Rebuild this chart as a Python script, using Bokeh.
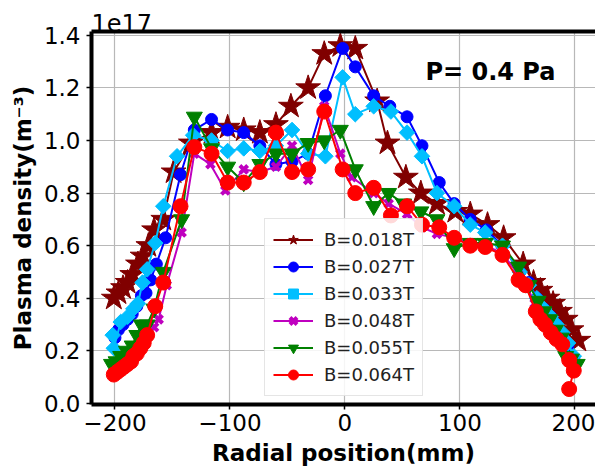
import numpy as np
from bokeh.plotting import figure
from bokeh.models import (Range1d, LinearAxis, FixedTicker, PrintfTickFormatter,
                          CustomJSTickFormatter, Label, Legend)
from bokeh.embed import file_html
from bokeh.resources import INLINE

# ---- data (density in units of 1e17 m^-3) ----
x_018 = [-201, -197, -193, -189, -185, -180, -176, -171, -166, -158, -149, -134, -116, -102, -88, -74, -60, -47, -32, -18, -4, 9, 28, 37, 53, 66, 80, 96, 109, 124, 138, 155, 164, 170, 176, 181, 187, 192, 197, 203]
y_018 = [0.40, 0.42, 0.44, 0.46, 0.49, 0.53, 0.56, 0.60, 0.66, 0.70, 0.88, 0.99, 1.03, 1.05, 1.04, 1.03, 1.06, 1.13, 1.20, 1.33, 1.36, 1.35, 1.15, 0.99, 0.86, 0.80, 0.76, 0.73, 0.72, 0.68, 0.63, 0.53, 0.46, 0.43, 0.40, 0.38, 0.35, 0.32, 0.28, 0.24]

x_027 = [-200, -197, -193, -189, -185, -181, -177, -173, -169, -164, -156, -143, -131, -116, -102, -88, -74, -60, -46, -32, -17, -2, 9, 25, 39, 54, 67, 82, 95, 109, 123, 137, 152, 160, 167, 173, 179, 184, 189, 194, 199]
y_027 = [0.25, 0.28, 0.30, 0.32, 0.34, 0.37, 0.41, 0.42, 0.47, 0.53, 0.63, 0.87, 1.04, 1.08, 1.04, 1.03, 0.98, 0.91, 0.92, 0.95, 1.17, 1.35, 1.28, 1.17, 1.13, 1.09, 0.98, 0.84, 0.76, 0.70, 0.66, 0.60, 0.50, 0.46, 0.40, 0.36, 0.33, 0.30, 0.26, 0.22, 0.17]

x_033 = [-202, -201, -195, -189, -184, -180, -176, -172, -165, -158, -146, -132, -116, -102, -88, -74, -60, -46, -32, -17, -2, 9, 25, 40, 54, 67, 80, 95, 109, 122, 137, 152, 160, 167, 173, 179, 184, 189, 194, 199]
y_033 = [0.26, 0.21, 0.31, 0.33, 0.36, 0.38, 0.46, 0.51, 0.61, 0.75, 0.94, 1.02, 1.00, 0.96, 0.97, 0.96, 0.98, 1.04, 0.95, 0.94, 1.24, 1.10, 1.13, 1.11, 1.03, 0.94, 0.80, 0.75, 0.68, 0.65, 0.60, 0.50, 0.45, 0.40, 0.36, 0.33, 0.30, 0.27, 0.23, 0.18]

x_048 = [-201, -196, -191, -186, -181, -176, -171, -166, -162, -155, -142, -131, -117, -104, -88, -74, -60, -46, -32, -18, -4, 6, 25, 38, 54, 67, 80, 95, 109, 123, 137, 151, 158, 165, 170, 175, 180, 185, 190, 195, 200]
y_048 = [0.12, 0.13, 0.15, 0.17, 0.20, 0.23, 0.26, 0.29, 0.32, 0.45, 0.65, 0.95, 0.91, 0.81, 0.89, 0.88, 0.90, 0.98, 0.85, 1.13, 0.95, 0.86, 0.80, 0.76, 0.72, 0.67, 0.645, 0.63, 0.61, 0.60, 0.57, 0.49, 0.45, 0.38, 0.34, 0.31, 0.28, 0.25, 0.22, 0.17, 0.14]

x_055 = [-203, -199, -195, -190, -185, -181, -177, -172, -166, -158, -142, -131, -116, -102, -88, -74, -60, -46, -32, -18, -4, 9, 25, 38, 51, 66, 80, 95, 109, 122, 137, 151, 160, 168, 173, 178, 183, 188, 192, 197, 202]
y_055 = [0.15, 0.16, 0.18, 0.20, 0.22, 0.26, 0.30, 0.30, 0.36, 0.50, 0.70, 1.09, 0.97, 0.90, 0.84, 0.91, 0.95, 0.95, 0.99, 1.00, 1.04, 0.89, 0.75, 0.80, 0.76, 0.73, 0.70, 0.59, 0.61, 0.61, 0.60, 0.52, 0.45, 0.39, 0.35, 0.32, 0.28, 0.25, 0.18, 0.17, 0.15]

x_064 = [-201, -198, -195, -192, -189, -186, -184, -181, -178, -175, -172, -165, -158, -143, -131, -116, -102, -88, -74, -60, -46, -32, -18, -2, 9, 25, 40, 54, 67, 82, 95, 109, 122, 137, 151, 157, 166, 170, 174, 179, 184, 189, 195, 199, 195]
y_064 = [0.11, 0.12, 0.13, 0.14, 0.15, 0.16, 0.18, 0.19, 0.21, 0.23, 0.26, 0.37, 0.46, 0.75, 0.975, 0.95, 0.84, 0.84, 0.88, 1.03, 0.88, 0.89, 1.11, 0.89, 0.80, 0.82, 0.715, 0.75, 0.68, 0.67, 0.63, 0.60, 0.595, 0.565, 0.47, 0.45, 0.35, 0.32, 0.30, 0.27, 0.245, 0.225, 0.165, 0.125, 0.055]

labels = ["B=0.018T", "B=0.027T", "B=0.033T", "B=0.048T", "B=0.055T", "B=0.064T"]
x_ticks = [-200, -100, 0, 100, 200]
y_ticks = [0.0, 0.2, 0.4, 0.6, 0.8, 1.0, 1.2, 1.4]

FONT = "DejaVu Sans"

p = figure(width=595, height=474, output_backend="svg", toolbar_location=None,
           x_range=Range1d(-220.4, 217.9), y_range=Range1d(-0.0038, 1.4144),
           min_border_left=91, min_border_right=0, min_border_top=31, min_border_bottom=70)
p.outline_line_color = None
p.background_fill_color = "white"

# offset text ("1e17") as a left-aligned title
p.title.text = "1e17"
p.title.align = "left"
p.title.text_font = FONT
p.title.text_font_size = "24px"
p.title.text_font_style = "normal"
p.title.text_color = "black"
p.title.standoff = 0
p.title.offset = 0

# grid
for g in (p.xgrid, p.ygrid):
    g.grid_line_color = "#b8b8b8"
    g.grid_line_width = 1.2
p.xgrid.ticker = FixedTicker(ticks=x_ticks)
p.ygrid.ticker = FixedTicker(ticks=y_ticks)

# axes
p.xaxis.ticker = FixedTicker(ticks=x_ticks)
p.yaxis.ticker = FixedTicker(ticks=y_ticks)
p.xaxis.formatter = CustomJSTickFormatter(code="return (tick < 0 ? '\\u2212' + Math.abs(tick) : String(tick));")
p.yaxis.formatter = PrintfTickFormatter(format="%.1f")
for ax in (p.xaxis[0], p.yaxis[0]):
    ax.axis_line_width = 4
    ax.axis_line_color = "black"
    ax.major_tick_in = 0
    ax.major_tick_out = 5
    ax.major_tick_line_width = 1.5
    ax.minor_tick_line_color = None
    ax.major_label_text_font = FONT
    ax.major_label_text_font_size = "23px"
    ax.major_label_text_color = "black"
    ax.axis_label_text_font = FONT
    ax.axis_label_text_font_size = "23px"
    ax.axis_label_text_font_style = "bold"
    ax.axis_label_text_color = "black"
p.xaxis.axis_label = "Radial position(mm)"
p.yaxis.axis_label = "Plasma density(m\u207b\u00b3)"
p.xaxis.major_label_standoff = 4
p.yaxis.major_label_standoff = 6
p.xaxis.axis_label_standoff = 6
p.yaxis.axis_label_standoff = 5

top = LinearAxis(ticker=FixedTicker(ticks=[]), axis_line_width=4, axis_line_color="black",
                 major_label_text_font_size="0px", major_tick_line_color=None,
                 major_tick_out=0, major_tick_in=0, major_label_standoff=0,
                 minor_tick_line_color=None)
p.add_layout(top, "above")

series = [
    (x_018, y_018, "#800000", "star", 26, 1),
    (x_027, y_027, "#0000ff", "circle", 12, 1),
    (x_033, y_033, "#00bfff", "square", 11, 1),
    (x_048, y_048, "#bf00bf", "x", 11, 4),
    (x_055, y_055, "#008000", "inverted_triangle", 16, 1),
    (x_064, y_064, "#ff0000", "circle", 15, 1),
]
items = []
for (xs, ys, col, mk, sz, lw), lab in zip(series, labels):
    r1 = p.line(xs, ys, line_color=col, line_width=2)
    kw = dict(marker=mk, size=sz, fill_color=col, line_color=col, line_width=lw)
    if mk == "square":
        kw["angle"] = 0.785398
        kw["angle_units"] = "rad"
    r2 = p.scatter(xs, ys, **kw)
    items.append((lab, [r1, r2]))

legend = Legend(items=items, location=(173, 8))
legend.label_text_font = FONT
legend.label_text_font_size = "18px"
legend.label_text_color = "#222222"
legend.glyph_width = 40
legend.glyph_height = 25
legend.label_height = 25
legend.label_standoff = 11
legend.spacing = 2
legend.padding = 8
legend.border_line_color = "#cccccc"
legend.border_line_width = 1
legend.background_fill_alpha = 0.85
p.add_layout(legend, "center")

p.add_layout(Label(x=70, y=1.26, text="P= 0.4 Pa", text_font=FONT, text_font_size="24px",
                   text_font_style="bold", text_baseline="middle", text_color="black"))

open("out.html", "w").write(file_html(p, INLINE))
